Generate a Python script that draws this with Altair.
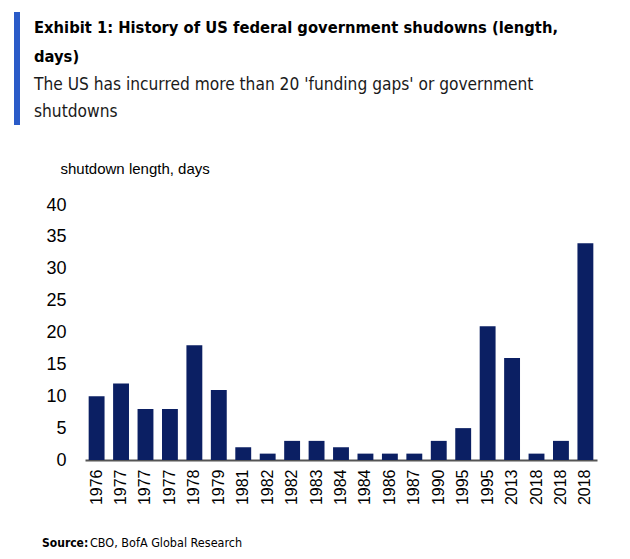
import altair as alt
import pandas as pd

years = ["1976", "1977", "1977", "1977", "1978", "1979", "1981", "1982", "1982", "1983",
         "1984", "1984", "1986", "1987", "1990", "1995", "1995", "2013", "2018", "2018", "2018"]
days = [10, 12, 8, 8, 18, 11, 2, 1, 3, 3, 2, 1, 1, 1, 3, 5, 21, 16, 1, 3, 34]
y_ticks = [0, 5, 10, 15, 20, 25, 30, 35, 40]

title_lines = ["Exhibit 1: History of US federal government shudowns (length,", "days)"]
subtitle_lines = ["The US has incurred more than 20 'funding gaps' or government", "shutdowns"]
source_label = "Source:"
source_text = "CBO, BofA Global Research"

NARROW = "Liberation Sans Narrow, DejaVu Sans Condensed"

df = pd.DataFrame({"idx": list(range(len(years))), "year": years, "days": days})
label_expr = "[" + ",".join('"%s"' % y for y in years) + "][datum.value]"

bars = alt.Chart(df).mark_bar(color="#0b1f63").encode(
    x=alt.X("idx:O", title=None,
            scale=alt.Scale(paddingInner=0.35, paddingOuter=0.15),
            axis=alt.Axis(labelExpr=label_expr, labelAngle=-90, labelFontSize=16,
                          labelFont="Liberation Sans", labelColor="#000",
                          ticks=False, domainColor="#555", domainWidth=2,
                          labelPadding=9)),
    y=alt.Y("days:Q", title="shutdown  length, days",
            scale=alt.Scale(domain=[0, 40], nice=False),
            axis=alt.Axis(values=y_ticks, grid=False, domain=False, ticks=False,
                          labelFontSize=18, labelFont="Liberation Sans", labelColor="#000",
                          labelPadding=19, titleAngle=0, titleAlign="left",
                          titleBaseline="middle", titleX=-25, titleY=-37,
                          titleFontSize=15, titleFontWeight="normal",
                          titleFont="Liberation Sans", titleColor="#000")),
)


def line(text, y, size, weight="normal", color="#000"):
    return alt.Chart(pd.DataFrame({"t": [text]})).mark_text(
        align="left", baseline="alphabetic", fontSize=size, fontWeight=weight,
        font=NARROW, color=color
    ).encode(x=alt.value(-51), y=alt.value(y), text="t:N")


title_l1 = line(title_lines[0], -172, 16.4, "bold")
title_l2 = line(title_lines[1], -143, 16.4, "bold")
sub_l1 = line(subtitle_lines[0], -115, 17.2, color="#1a1a1a")
sub_l2 = line(subtitle_lines[1], -88, 17.2, color="#1a1a1a")

one = pd.DataFrame({"label": [source_label], "text": [source_text]})

accent = alt.Chart(one).mark_rule(color="#2a5bc8", strokeWidth=6).encode(
    x=alt.value(-68), y=alt.value(-193), y2=alt.value(-80)
)

src_bold = alt.Chart(one).mark_text(
    align="left", baseline="middle", fontSize=12, fontWeight="bold",
    font=NARROW, color="#000"
).encode(x=alt.value(-43), y=alt.value(338), text="label:N")

src_reg = alt.Chart(one).mark_text(
    align="left", baseline="middle", fontSize=12.5,
    font=NARROW, color="#000"
).encode(x=alt.value(5), y=alt.value(338), text="text:N")

chart = alt.layer(bars, accent, title_l1, title_l2, sub_l1, sub_l2, src_bold, src_reg).properties(
    width=512, height=255,
    autosize=alt.AutoSizeParams(type="none"),
    padding={"left": 77, "top": 197, "right": 17, "bottom": 90},
).configure_view(stroke=None)

chart.save("out.html", embed_options={"renderer": "svg", "actions": False})
